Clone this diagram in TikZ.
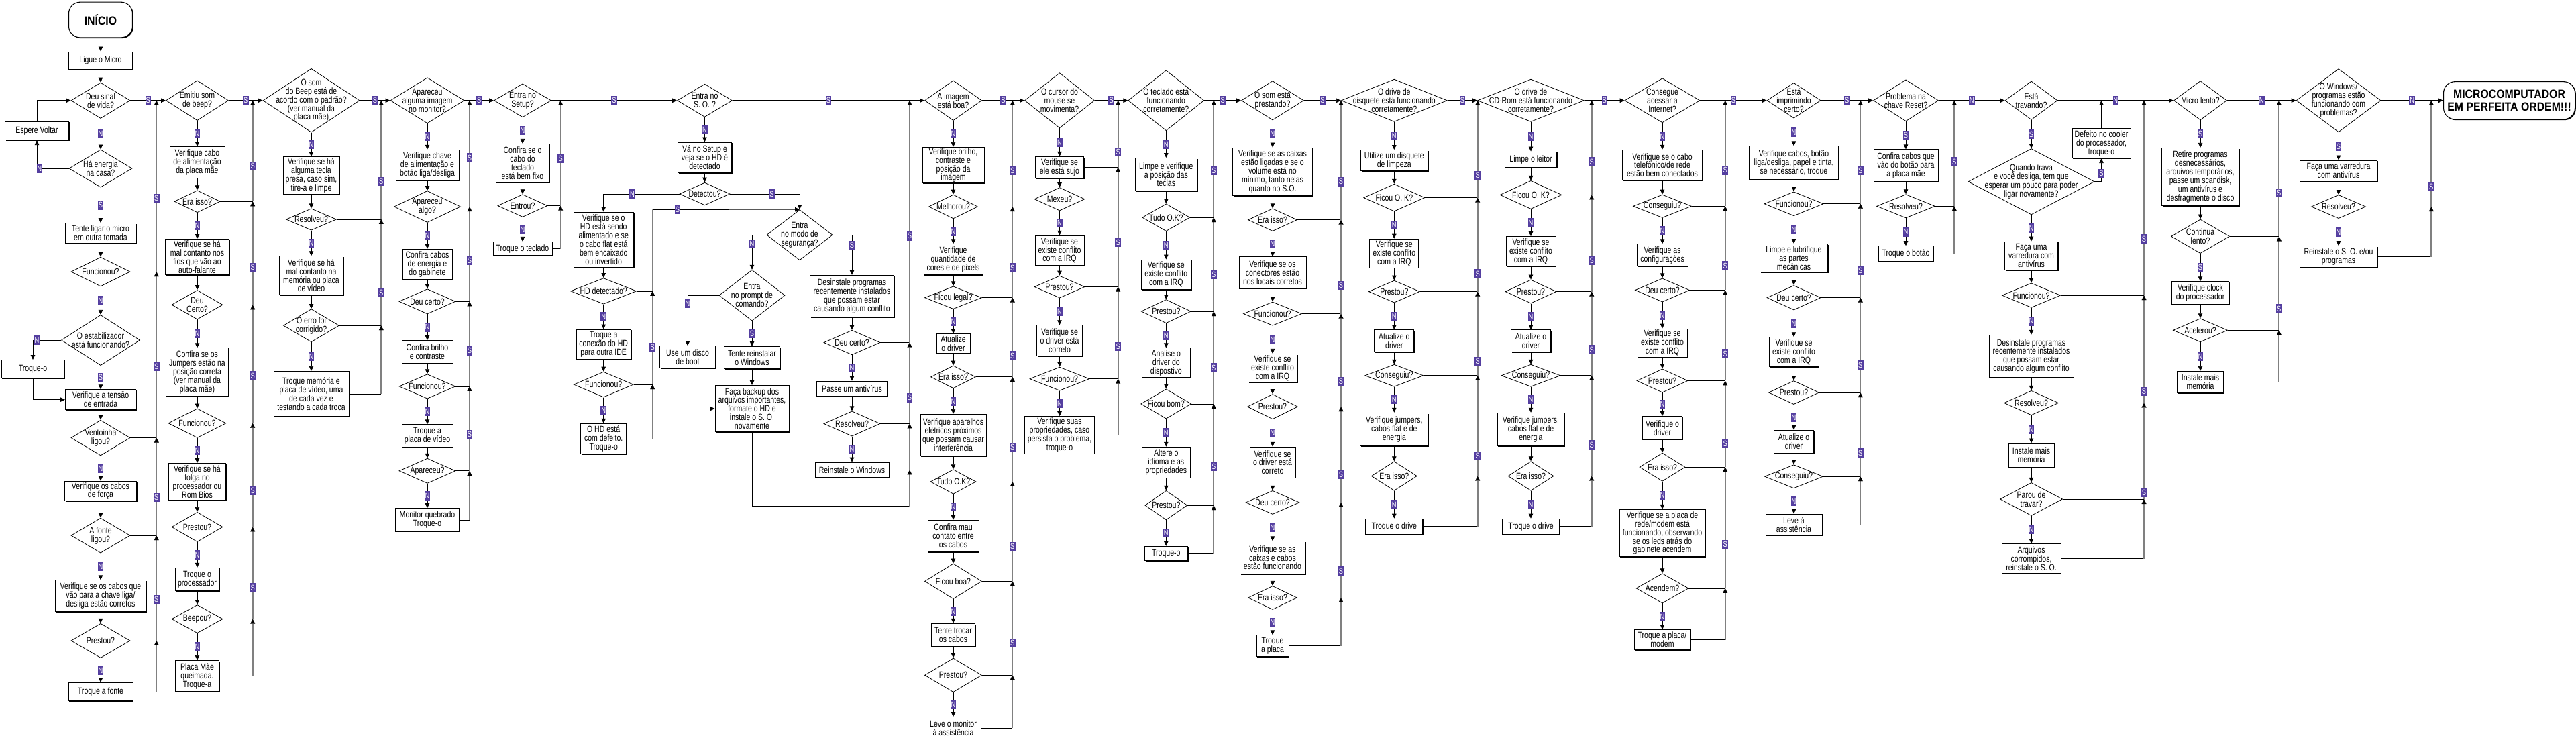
\documentclass[tikz,border=0pt]{standalone}
\usepackage{fontspec}
\setmainfont{Liberation Sans}[FakeStretch=0.78]
\newfontfamily\termfam{Liberation Sans}[FakeStretch=0.88]
\usetikzlibrary{shapes.geometric,arrows.meta,shadows}
\definecolor{tagc}{RGB}{84,62,160}
\newcommand\txtn{\fontsize{13.5}{12.9}\selectfont}
\newcommand\txtt{\termfam\bfseries\fontsize{18}{19.5}\selectfont}
\newcommand\txtg{\fontsize{12}{12}\selectfont}
\newcommand\xBX[7][]{\node[pb,#1,minimum width=#5pt,minimum height={#6*0.7032pt}] (#2) at (#3,#4) {#7};}
\newcommand\xDM[6]{\node[dm,minimum width=#4pt,minimum height={#5*0.7032pt}] (#1) at (#2,#3) {};\node[dl] (#1t) at (#1.center) {#6};}
\newcommand\xVL[2]{\draw[arr] (#1.south) -- (#1.south |- #2.north);}
\newcommand\xVT[3]{\draw[arr] (#1.south) -- (#1.south |- #2.north) node[tag,midway]{#3};}
\newcommand\xHK[2]{\draw[ln] (#1.east) -- (#1.east -| #2);}
\newcommand\xRS[4]{\draw[ret] (#1.east -| #3) -- (#2.east -| #3) node[tag,pos=#4]{S};}
\newcommand\xRN[3]{\draw[ret] (#1.east -| #3) -- (#2.east -| #3);}
\newcommand\xMR[3]{\draw[arr] (#1.east) -- (#2.west) node[tag,midway]{#3};}
\tikzset{
  pb/.style={rectangle,draw=black,line width=1pt,fill=white,align=center,font=\txtn,inner sep=1pt,
    drop shadow={shadow xshift=1.3pt,shadow yshift=-1.3pt,opacity=1,fill=black}},
  term/.style={rounded corners=17pt,font=\txtt,line width=1.1pt},
  dm/.style={diamond,draw=black,line width=0.8pt,fill=white,inner sep=0pt},
  dl/.style={align=center,font=\txtn,inner sep=0pt},
  ln/.style={draw=black,line width=0.75pt},
  arr/.style={ln,-{Triangle[length=7pt,width=6.5pt]}},
  ret/.style={draw=black!50,line width=1.8pt,-{Triangle[length=7pt,width=7pt,color=black,fill=black,line width=0.1pt]}},
  tag/.style={fill=tagc,text=white,font=\txtg,inner sep=0pt,minimum width=8.5pt,minimum height=13.5pt}
}
\begin{document}
\begin{tikzpicture}[x=1pt,y=-0.7032pt]
\useasboundingbox (0,0) rectangle (3840,1560);
% ---------------- Column A
\xBX[term]{start}{150}{42}{95}{75}{INÍCIO}
\xBX{ligue}{150}{128}{95}{37}{Ligue o Micro}
\xDM{dvida}{150}{213}{88}{76}{Deu sinal\\de vida?}
\xBX{espere}{55}{277}{95}{39}{Espere Voltar}
\xDM{denergia}{150}{357}{94}{80}{Há energia\\na casa?}
\xBX{tomada}{150}{494}{105}{42}{Tente ligar o micro\\em outra tomada}
\xDM{dfuncA}{150}{576}{88}{62}{Funcionou?}
\xDM{destab}{150}{721}{117}{107}{O estabilizador\\está funcionando?}
\xBX{troqueA}{49}{782}{94}{38}{Troque-o}
\xBX{tensao}{150}{847}{105}{42}{Verifique a tensão\\de entrada}
\xDM{dvent}{150}{928}{88}{75}{Ventoinha\\ligou?}
\xBX{cabosf}{150}{1041}{107}{42}{Verifique os cabos\\de força}
\xDM{dfonte}{150}{1135}{88}{74}{A fonte\\ligou?}
\xBX{chave}{150}{1263}{135}{66}{Verifique se os cabos que\\vão para a chave liga/\\desliga estão corretos}
\xDM{dprestA}{150}{1358}{88}{73}{Prestou?}
\xBX{tfonte}{150}{1466}{96}{38}{Troque a fonte}
\coordinate (rA) at (233.3,0);
\xVL{start}{ligue}
\xVL{ligue}{dvida}
\draw[arr] (espere.north) |- (dvida.west);
\draw[arr] (denergia.west) -| (espere.south) node[tag,pos=0.46]{N};
\xVT{dvida}{denergia}{N}
\xVT{denergia}{tomada}{S}
\xVL{tomada}{dfuncA}
\xVT{dfuncA}{destab}{N}
\draw[arr] (destab.west) -| (troqueA.north) node[tag,pos=0.43]{N};
\xVT{destab}{tensao}{S}
\draw[arr] (troqueA.south) |- (tensao.west);
\xVL{tensao}{dvent}
\xVT{dvent}{cabosf}{N}
\xVL{cabosf}{dfonte}
\xVT{dfonte}{chave}{N}
\xVL{chave}{dprestA}
\xVT{dprestA}{tfonte}{N}
\xHK{dfuncA}{rA}\xHK{dvent}{rA}\xHK{dfonte}{rA}\xHK{dprestA}{rA}\xHK{tfonte}{rA}
\xRN{tfonte}{dprestA}{rA}
\xRS{dprestA}{dfonte}{rA}{0.39}
\xRS{dfonte}{dvent}{rA}{0.39}
\xRS{dvent}{dfuncA}{rA}{0.43}
\xRS{dfuncA}{dvida}{rA}{0.43}
% ---------------- Column B
\xDM{dbeep}{294}{213}{93}{85}{Emitiu som\\de beep?}
\xBX{caboal}{294}{344}{82}{66}{Verifique cabo\\de alimentação\\da placa mãe}
\xDM{deraB}{294}{427}{68}{47}{Era isso?}
\xBX{malcont}{294}{545}{95}{76}{Verifique se há\\mal contanto nos\\fios que vão ao\\auto-falante}
\xDM{dcertoB}{294}{646}{76}{62}{Deu\\Certo?}
\xBX{jumpers}{294}{789}{93}{102}{Confira se os\\Jumpers estão na\\posição correta\\(ver manual da\\placa mãe)}
\xDM{dfuncB}{294}{897}{86}{62}{Funcionou?}
\xBX{folga}{294}{1021}{85}{78}{Verifique se há\\folga no\\processador ou\\Rom Bios}
\xDM{dprestB}{294}{1117}{76}{63}{Prestou?}
\xBX{tproc}{294}{1228}{66}{49}{Troque o\\processador}
\xDM{dbeepou}{294}{1312}{76}{60}{Beepou?}
\xBX{pqueim}{294}{1433}{65}{66}{Placa Mãe\\queimada.\\Troque-a}
\coordinate (rB) at (376.7,0);
\xVT{dbeep}{caboal}{N}\xVL{caboal}{deraB}\xVT{deraB}{malcont}{N}\xVL{malcont}{dcertoB}
\xVT{dcertoB}{jumpers}{N}\xVL{jumpers}{dfuncB}\xVT{dfuncB}{folga}{N}\xVL{folga}{dprestB}
\xVT{dprestB}{tproc}{N}\xVL{tproc}{dbeepou}\xVT{dbeepou}{pqueim}{N}
\xHK{deraB}{rB}\xHK{dcertoB}{rB}\xHK{dfuncB}{rB}\xHK{dprestB}{rB}\xHK{dbeepou}{rB}\xHK{pqueim}{rB}
\xRN{pqueim}{dbeepou}{rB}
\xRS{dbeepou}{dprestB}{rB}{0.34}
\xRS{dprestB}{dfuncB}{rB}{0.35}
\xRS{dfuncB}{dcertoB}{rB}{0.40}
\xRS{dcertoB}{deraB}{rB}{0.36}
\xRS{deraB}{dbeep}{rB}{0.35}
% ---------------- Column C
\xDM{dpadrao}{464}{213}{144}{135}{O som\\do Beep está de\\acordo com o padrão?\\(ver manual da\\placa mãe)}
\xBX{tecla}{464}{372}{84}{79}{Verifique se há\\alguma tecla\\presa, caso sim,\\tire-a e limpe}
\xDM{dresolvC}{464}{465}{75}{46}{Resolveu?}
\xBX{memvid}{464}{584}{95}{82}{Verifique se há\\mal contanto na\\memória ou placa\\de vídeo}
\xDM{derro}{464}{690}{83}{70}{O erro foi\\corrigido?}
\xBX{trmem}{464}{835}{112}{96}{Troque memória e\\placa de vídeo, uma\\de cada vez e\\testando a cada troca}
\coordinate (rC) at (568.3,0);
\xVT{dpadrao}{tecla}{N}\xVL{tecla}{dresolvC}\xVT{dresolvC}{memvid}{N}\xVL{memvid}{derro}\xVT{derro}{trmem}{N}
\xHK{dresolvC}{rC}\xHK{derro}{rC}\xHK{trmem}{rC}
\xRN{trmem}{derro}{rC}
\xRS{derro}{dresolvC}{rC}{0.31}
\xRS{dresolvC}{dpadrao}{rC}{0.32}
% ---------------- Column D
\xDM{dmonitor}{637}{213}{110}{97}{Apareceu\\alguma imagem\\no monitor?}
\xBX{chave2}{637}{350}{94}{65}{Verifique chave\\de alimentação e\\botão liga/desliga}
\xDM{dalgo}{637}{438}{99}{67}{Apareceu\\algo?}
\xBX{gab}{637}{560}{74}{64}{Confira cabos\\de energia e\\do gabinete}
\xDM{dcertoD}{637}{639}{84}{53}{Deu certo?}
\xBX{brilho}{637}{746}{76}{48}{Confira brilho\\e contraste}
\xDM{dfuncD}{637}{819}{84}{52}{Funcionou?}
\xBX{placavid}{637}{924}{76}{48}{Troque a\\placa de vídeo}
\xDM{dapar}{637}{998}{84}{53}{Apareceu?}
\xBX{monq}{637}{1102}{95}{49}{Monitor quebrado\\Troque-o}
\coordinate (rD) at (700,0);
\xVT{dmonitor}{chave2}{N}\xVL{chave2}{dalgo}\xVT{dalgo}{gab}{N}\xVL{gab}{dcertoD}\xVT{dcertoD}{brilho}{N}
\xVL{brilho}{dfuncD}\xVT{dfuncD}{placavid}{N}\xVL{placavid}{dapar}\xVT{dapar}{monq}{N}
\xHK{dalgo}{rD}\xHK{dcertoD}{rD}\xHK{dfuncD}{rD}\xHK{dapar}{rD}\xHK{monq}{rD}
\xRN{monq}{dapar}{rD}
\xRS{dapar}{dfuncD}{rD}{0.43}
\xRS{dfuncD}{dcertoD}{rD}{0.42}
\xRS{dcertoD}{dalgo}{rD}{0.43}
\xRS{dalgo}{dmonitor}{rD}{0.46}
% ---------------- Column E
\xDM{dsetup}{779}{213}{85}{71}{Entra no\\Setup?}
\xBX{teclado}{779}{346}{80}{82}{Confira se o\\cabo do\\teclado\\está bem fixo}
\xDM{dentrou}{779}{436}{74}{48}{Entrou?}
\xBX{trtecl}{779}{527}{88}{29}{Troque o teclado}
\coordinate (rE) at (835.7,0);
\xVT{dsetup}{teclado}{N}\xVL{teclado}{dentrou}\xVT{dentrou}{trtecl}{N}
\xHK{dentrou}{rE}\xHK{trtecl}{rE}
\xRN{trtecl}{dentrou}{rE}
\xRS{dentrou}{dsetup}{rE}{0.45}
% ---------------- Column F / G
\xDM{dso}{1050.5}{213}{82}{70}{Entra no\\S. O. ?}
\xBX{setuphd}{1050.5}{334}{80}{65}{Vá no Setup e\\veja se o HD é\\detectado}
\xDM{ddetect}{1050.5}{411}{75}{48}{Detectou?}
\xBX{hdalim}{899.7}{508}{89}{117}{Verifique se o\\HD está sendo\\alimentado e se\\o cabo flat está\\bem encaixado\\ou invertido}
\xDM{dhddet}{899.7}{617}{98}{55}{HD detectado?}
\xBX{ide}{899.7}{730}{81}{63}{Troque a\\conexão do HD\\para outra IDE}
\xDM{dfuncF}{899.7}{815}{89}{54}{Funcionou?}
\xBX{hddef}{899.7}{930}{68}{64}{O HD está\\com defeito.\\Troque-o}
\xDM{dseg}{1192}{498}{98}{107}{Entra\\no modo de\\segurança?}
\xDM{dprompt}{1121}{626}{98}{108}{Entra\\no prompt de\\comando?}
\xBX{boot}{1025}{757}{83}{47}{Use um disco\\de boot}
\xBX{reinst}{1121}{758}{83}{47}{Tente reinstalar\\o Windows}
\xBX{backup}{1121}{866}{110}{98}{Faça backup dos\\arquivos importantes,\\formate o HD e\\instale o S. O.\\novamente}
\xBX{desinstA}{1270}{628}{125}{89}{Desinstale programas\\recentemente instalados\\que possam estar\\causando algum conflito}
\xDM{dcertoG}{1270}{726}{84}{52}{Deu certo?}
\xBX{antivA}{1270}{824}{105}{32}{Passe um antivírus}
\xDM{dresolvG}{1270}{898}{84}{53}{Resolveu?}
\xBX{reinstw}{1270}{996}{110}{32}{Reinstale o Windows}
\coordinate (rF) at (972.7,0);
\coordinate (fjoin) at (972.7,444.5);
\coordinate (rG) at (1356,0);
\coordinate (gbot) at (1356,1073);
\xVT{dso}{setuphd}{N}\xVL{setuphd}{ddetect}
\draw[arr] (ddetect.west) -| (hdalim.north) node[tag,pos=0.31]{N};
\draw[arr] (ddetect.east) -| (dseg.north) node[tag,pos=0.30]{S};
\xVL{hdalim}{dhddet}\xVT{dhddet}{ide}{N}\xVL{ide}{dfuncF}\xVT{dfuncF}{hddef}{N}
\xHK{dhddet}{rF}\xHK{dfuncF}{rF}\xHK{hddef}{rF}
\xRN{hddef}{dfuncF}{rF}
\xRS{dfuncF}{dhddet}{rF}{0.40}
\draw[ret,-] (dhddet.east -| rF) -- (fjoin);
\draw[arr] (fjoin) -- (dseg.north) node[tag,pos=0.17]{S};
\draw[arr] (dseg.west) -| (dprompt.north) node[tag,pos=0.63]{N};
\draw[arr] (dseg.east) -| (desinstA.north) node[tag,pos=0.63]{S};
\draw[arr] (dprompt.west) -| (boot.north) node[tag,pos=0.58]{N};
\xVT{dprompt}{reinst}{S}
\draw[arr] (boot.south) |- (backup.west);
\xVL{reinst}{backup}
\draw[ln] (backup.south) |- (gbot);
\xVL{desinstA}{dcertoG}\xVT{dcertoG}{antivA}{N}\xVL{antivA}{dresolvG}\xVT{dresolvG}{reinstw}{N}
\xHK{dcertoG}{rG}\xHK{dresolvG}{rG}\xHK{reinstw}{rG}
\draw[ret] (gbot) -- (reinstw.east -| rG);
\xRN{reinstw}{dresolvG}{rG}
\xRS{dresolvG}{dcertoG}{rG}{0.32}
\xRS{dcertoG}{dso}{rG}{0.44}
% ---------------- Column H
\xDM{dimg}{1421}{213}{85}{85}{A imagem\\está boa?}
\xBX{brilho2}{1421}{350}{92}{75}{Verifique brilho,\\contraste e\\posição da\\imagem}
\xDM{dmelh}{1421}{438}{73}{51}{Melhorou?}
\xBX{cores}{1421}{550}{88}{65}{Verifique\\quantidade de\\cores e de pixels}
\xDM{dlegal}{1421}{631}{85}{48}{Ficou legal?}
\xBX{atdrvH}{1421}{728}{50}{40}{Atualize\\o driver}
\xDM{deraH}{1421}{799}{67}{48}{Era isso?}
\xBX{apar}{1421}{922}{98}{88}{Verifique aparelhos\\elétricos próximos\\que possam causar\\interferência}
\xDM{dokH}{1421}{1021}{68}{52}{Tudo O.K?}
\xBX{mau}{1421}{1136}{76}{67}{Confira mau\\contato entre\\os cabos}
\xDM{dboa}{1421}{1232}{85}{75}{Ficou boa?}
\xBX{trcabos}{1421}{1346}{65}{49}{Tente trocar\\os cabos}
\xDM{dprestH}{1421}{1431}{85}{72}{Prestou?}
\xBX{leve}{1421}{1543}{82}{47}{Leve o monitor\\à assistência}
\coordinate (rH) at (1509.3,0);
\xVT{dimg}{brilho2}{N}\xVL{brilho2}{dmelh}\xVT{dmelh}{cores}{N}\xVL{cores}{dlegal}\xVT{dlegal}{atdrvH}{N}
\xVL{atdrvH}{deraH}\xVT{deraH}{apar}{N}\xVL{apar}{dokH}\xVT{dokH}{mau}{N}\xVL{mau}{dboa}
\xVT{dboa}{trcabos}{N}\xVL{trcabos}{dprestH}\xVT{dprestH}{leve}{N}
\xHK{dmelh}{rH}\xHK{dlegal}{rH}\xHK{deraH}{rH}\xHK{dokH}{rH}\xHK{dboa}{rH}\xHK{dprestH}{rH}\xHK{leve}{rH}
\xRN{leve}{dprestH}{rH}
\xRS{dprestH}{dboa}{rH}{0.34}
\xRS{dboa}{dokH}{rH}{0.35}
\xRS{dokH}{deraH}{rH}{0.33}
\xRS{deraH}{dlegal}{rH}{0.27}
\xRS{dlegal}{dmelh}{rH}{0.33}
\xRS{dmelh}{dimg}{rH}{0.34}
% ---------------- Column I
\xDM{dmouse}{1579.5}{213}{104}{117}{O cursor do\\mouse se\\movimenta?}
\xBX{sujo}{1579.5}{355}{72}{46}{Verifique se\\ele está sujo}
\xDM{dmexeu}{1579.5}{422}{75}{49}{Mexeu?}
\xBX{irqI}{1579.5}{531}{73}{63}{Verifique se\\existe conflito\\com a IRQ}
\xDM{dprestI}{1579.5}{608}{75}{47}{Prestou?}
\xBX{drvcor}{1579.5}{722}{68}{65}{Verifique se\\o driver está\\correto}
\xDM{dfuncI}{1579.5}{803}{89}{50}{Funcionou?}
\xBX{props}{1579.5}{922}{104}{79}{Verifique suas\\propriedades, caso\\persista o problema,\\troque-o}
\coordinate (rI) at (1666.7,0);
\xVT{dmouse}{sujo}{N}\xVL{sujo}{dmexeu}\xVT{dmexeu}{irqI}{N}\xVL{irqI}{dprestI}\xVT{dprestI}{drvcor}{N}
\xVL{drvcor}{dfuncI}\xVT{dfuncI}{props}{N}
\xHK{sujo}{rI}\xHK{dprestI}{rI}\xHK{dfuncI}{rI}\xHK{props}{rI}
\xRN{props}{dfuncI}{rI}
\xRS{dfuncI}{dprestI}{rI}{0.35}
\xRS{dprestI}{sujo}{rI}{0.37}
\xRS{sujo}{dmouse}{rI}{0.23}
% ---------------- Column J
\xDM{dtecl}{1738.3}{213}{113}{128}{O teclado está\\funcionando\\corretamente?}
\xBX{limpe}{1738.3}{370}{92}{70}{Limpe e verifique\\a posição das\\teclas}
\xDM{dokJ}{1738.3}{461}{71}{58}{Tudo O.K?}
\xBX{irqJ}{1738.3}{582}{74}{63}{Verifique se\\existe conflito\\com a IRQ}
\xDM{dprestJ}{1738.3}{660}{74}{50}{Prestou?}
\xBX{analise}{1738.3}{769}{72}{62}{Analise o\\driver do\\dispostivo}
\xDM{dbom}{1738.3}{856}{75}{63}{Ficou bom?}
\xBX{idioma}{1738.3}{980}{72}{65}{Altere o\\idioma e as\\propriedades}
\xDM{dprestJb}{1738.3}{1071}{63}{62}{Prestou?}
\xBX{trocao}{1738.3}{1173}{64}{30}{Troque-o}
\coordinate (rJ) at (1809.3,0);
\xVT{dtecl}{limpe}{N}\xVL{limpe}{dokJ}\xVT{dokJ}{irqJ}{N}\xVL{irqJ}{dprestJ}\xVT{dprestJ}{analise}{N}
\xVL{analise}{dbom}\xVT{dbom}{idioma}{N}\xVL{idioma}{dprestJb}\xVT{dprestJb}{trocao}{N}
\xHK{dokJ}{rJ}\xHK{dprestJ}{rJ}\xHK{dbom}{rJ}\xHK{dprestJb}{rJ}\xHK{trocao}{rJ}
\xRN{trocao}{dprestJb}{rJ}
\xRS{dprestJb}{dbom}{rJ}{0.38}
\xRS{dbom}{dprestJ}{rJ}{0.39}
\xRS{dprestJ}{dokJ}{rJ}{0.39}
\xRS{dokJ}{dtecl}{rJ}{0.40}
% ---------------- Column K
\xDM{dsom}{1897}{213}{93}{83}{O som está\\prestando?}
\xBX{caixas}{1897}{364}{119}{102}{Verifique se as caixas\\estão ligadas e se o\\volume está no\\mínimo, tanto nelas\\quanto no S.O.}
\xDM{deraK}{1897}{466}{73}{48}{Era isso?}
\xBX{conect}{1897}{578}{100}{67}{Verifique se os\\conectores estão\\nos locais corretos}
\xDM{dfuncK}{1897}{665}{87}{50}{Funcionou?}
\xBX{irqK}{1897}{780}{73}{60}{Verifique se\\existe conflito\\com a IRQ}
\xDM{dprestK}{1897}{862}{75}{53}{Prestou?}
\xBX{drvcorK}{1897}{980}{68}{65}{Verifique se\\o driver está\\correto}
\xDM{dcertoK}{1897}{1065}{80}{50}{Deu certo?}
\xBX{caixcab}{1897}{1182}{97}{69}{Verifique se as\\caixas e cabos\\estão funcionando}
\xDM{deraK2}{1897}{1267}{73}{50}{Era isso?}
\xBX{trplaca}{1897}{1369}{48}{45}{Troque\\a placa}
\coordinate (rK) at (1999,0);
\xVT{dsom}{caixas}{N}\xVL{caixas}{deraK}\xVT{deraK}{conect}{N}\xVL{conect}{dfuncK}\xVT{dfuncK}{irqK}{N}
\xVL{irqK}{dprestK}\xVT{dprestK}{drvcorK}{N}\xVL{drvcorK}{dcertoK}\xVT{dcertoK}{caixcab}{N}
\xVL{caixcab}{deraK2}\xVT{deraK2}{trplaca}{N}
\xHK{deraK}{rK}\xHK{dfuncK}{rK}\xHK{dprestK}{rK}\xHK{dcertoK}{rK}\xHK{deraK2}{rK}\xHK{trplaca}{rK}
\xRN{trplaca}{deraK2}{rK}
\xRS{deraK2}{dcertoK}{rK}{0.28}
\xRS{dcertoK}{dprestK}{rK}{0.29}
\xRS{dprestK}{dfuncK}{rK}{0.27}
\xRS{dfuncK}{deraK}{rK}{0.30}
\xRS{deraK}{dsom}{rK}{0.32}
% ---------------- Column L
\xDM{ddisq}{2078.3}{213}{158}{90}{O drive de\\disquete está funcionando\\corretamente?}
\xBX{limpeza}{2078.3}{340}{100}{44}{Utilize um disquete\\de limpeza}
\xDM{dokL}{2078.3}{419}{91}{58}{Ficou O. K?}
\xBX{irqL}{2078.3}{537}{73}{61}{Verifique se\\existe conflito\\com a IRQ}
\xDM{dprestL}{2078.3}{618}{76}{47}{Prestou?}
\xBX{atdrvL}{2078.3}{723}{59}{47}{Atualize o\\driver}
\xDM{dconsL}{2078.3}{796}{87}{47}{Conseguiu?}
\xBX{jumpL}{2078.3}{910}{101}{70}{Verifique jumpers,\\cabos flat e de\\energia}
\xDM{deraL}{2078.3}{1009}{68}{62}{Era isso?}
\xBX{trdrL}{2078.3}{1116}{85}{33}{Troque o drive}
\coordinate (rL) at (2202.7,0);
\xVT{ddisq}{limpeza}{N}\xVL{limpeza}{dokL}\xVT{dokL}{irqL}{N}\xVL{irqL}{dprestL}\xVT{dprestL}{atdrvL}{N}
\xVL{atdrvL}{dconsL}\xVT{dconsL}{jumpL}{N}\xVL{jumpL}{deraL}\xVT{deraL}{trdrL}{N}
\xHK{dokL}{rL}\xHK{dprestL}{rL}\xHK{dconsL}{rL}\xHK{deraL}{rL}\xHK{trdrL}{rL}
\xRN{trdrL}{deraL}{rL}
\xRS{deraL}{dconsL}{rL}{0.20}
\xRS{dconsL}{dprestL}{rL}{0.17}
\xRS{dprestL}{dokL}{rL}{0.19}
\xRS{dokL}{ddisq}{rL}{0.23}
% ---------------- Column M
\xDM{dcd}{2282}{213}{159}{90}{O drive de\\CD-Rom está funcionando\\corretamente?}
\xBX{leitor}{2282}{338}{77}{33}{Limpe o leitor}
\xDM{dokM}{2282}{413}{92}{60}{Ficou O. K?}
\xBX{irqM}{2282}{533}{74}{63}{Verifique se\\existe conflito\\com a IRQ}
\xDM{dprestM}{2282}{618}{76}{50}{Prestou?}
\xBX{atdrvM}{2282}{723}{59}{47}{Atualize o\\driver}
\xDM{dconsM}{2282}{796}{88}{47}{Conseguiu?}
\xBX{jumpM}{2282}{910}{100}{70}{Verifique jumpers,\\cabos flat e de\\energia}
\xDM{deraM}{2282}{1009}{68}{62}{Era isso?}
\xBX{trdrM}{2282}{1116}{85}{33}{Troque o drive}
\coordinate (rM) at (2372.7,0);
\xVT{dcd}{leitor}{N}\xVL{leitor}{dokM}\xVT{dokM}{irqM}{N}\xVL{irqM}{dprestM}\xVT{dprestM}{atdrvM}{N}
\xVL{atdrvM}{dconsM}\xVT{dconsM}{jumpM}{N}\xVL{jumpM}{deraM}\xVT{deraM}{trdrM}{N}
\xHK{dokM}{rM}\xHK{dprestM}{rM}\xHK{dconsM}{rM}\xHK{deraM}{rM}\xHK{trdrM}{rM}
\xRN{trdrM}{deraM}{rM}
\xRS{deraM}{dconsM}{rM}{0.31}
\xRS{dconsM}{dprestM}{rM}{0.31}
\xRS{dprestM}{dokM}{rM}{0.32}
\xRS{dokM}{dcd}{rM}{0.35}
% ---------------- Column N
\xDM{dnet}{2478}{213}{112}{94}{Consegue\\acessar a\\Internet?}
\xBX{cabotel}{2478}{350}{119}{65}{Verifique se o cabo\\telefônico/de rede\\estão bem conectados}
\xDM{dconsN}{2478}{437}{87}{49}{Conseguiu?}
\xBX{config}{2478}{541}{76}{47}{Verifique as\\configurações}
\xDM{dcertoN}{2478}{615}{81}{50}{Deu certo?}
\xBX{irqN}{2478}{727}{74}{60}{Verifique se\\existe conflito\\com a IRQ}
\xDM{dprestN}{2478}{807}{76}{50}{Prestou?}
\xBX{verdrv}{2478}{907}{59}{49}{Verifique o\\driver}
\xDM{deraN}{2478}{990}{68}{60}{Era isso?}
\xBX{leds}{2478}{1130}{128}{100}{Verifique se a placa de\\rede/modem está\\funcionando, observando\\se os leds atrás do\\gabinete acendem}
\xDM{dacend}{2478}{1247}{78}{63}{Acendem?}
\xBX{trmodem}{2478}{1356}{84}{42}{Troque a placa/\\modem}
\coordinate (rN) at (2571.7,0);
\xVT{dnet}{cabotel}{N}\xVL{cabotel}{dconsN}\xVT{dconsN}{config}{N}\xVL{config}{dcertoN}\xVT{dcertoN}{irqN}{N}
\xVL{irqN}{dprestN}\xVT{dprestN}{verdrv}{N}\xVL{verdrv}{deraN}\xVT{deraN}{leds}{N}
\xVL{leds}{dacend}\xVT{dacend}{trmodem}{N}
\xHK{dconsN}{rN}\xHK{dcertoN}{rN}\xHK{dprestN}{rN}\xHK{deraN}{rN}\xHK{dacend}{rN}\xHK{trmodem}{rN}
\xRN{trmodem}{dacend}{rN}
\xRS{dacend}{deraN}{rN}{0.36}
\xRS{deraN}{dprestN}{rN}{0.27}
\xRS{dprestN}{dcertoN}{rN}{0.30}
\xRS{dcertoN}{dconsN}{rN}{0.29}
\xRS{dconsN}{dnet}{rN}{0.34}
% ---------------- Column O
\xDM{dimpr}{2674}{213}{80}{75}{Está\\imprimindo\\certo?}
\xBX{impcab}{2674}{345}{133}{70}{Verifique cabos, botão\\liga/desliga, papel e tinta,\\se necessário, troque}
\xDM{dfuncO}{2674}{432}{88}{51}{Funcionou?}
\xBX{lubr}{2674}{547}{101}{60}{Limpe e lubrifique\\as partes\\mecânicas}
\xDM{dcertoO}{2674}{631}{80}{52}{Deu certo?}
\xBX{irqO}{2674}{746}{74}{62}{Verifique se\\existe conflito\\com a IRQ}
\xDM{dprestO}{2674}{832}{75}{50}{Prestou?}
\xBX{atdrvO}{2674}{936}{59}{48}{Atualize o\\driver}
\xDM{dconsO}{2674}{1010}{87}{50}{Conseguiu?}
\xBX{assist}{2674}{1112}{84}{45}{Leve à\\assistência}
\coordinate (rO) at (2773.3,0);
\xVT{dimpr}{impcab}{N}\xVL{impcab}{dfuncO}\xVT{dfuncO}{lubr}{N}\xVL{lubr}{dcertoO}\xVT{dcertoO}{irqO}{N}
\xVL{irqO}{dprestO}\xVT{dprestO}{atdrvO}{N}\xVL{atdrvO}{dconsO}\xVT{dconsO}{assist}{N}
\xHK{dfuncO}{rO}\xHK{dcertoO}{rO}\xHK{dprestO}{rO}\xHK{dconsO}{rO}\xHK{assist}{rO}
\xRN{assist}{dconsO}{rO}
\xRS{dconsO}{dprestO}{rO}{0.28}
\xRS{dprestO}{dcertoO}{rO}{0.29}
\xRS{dcertoO}{dfuncO}{rO}{0.29}
\xRS{dfuncO}{dimpr}{rO}{0.32}
% ---------------- Column P
\xDM{dreset}{2841}{213}{97}{88}{Problema na\\chave Reset?}
\xBX{cabreset}{2841}{351}{96}{68}{Confira cabos que\\vão do botão para\\a placa mãe}
\xDM{dresolvP}{2841}{437}{87}{50}{Resolveu?}
\xBX{trbotao}{2841}{538}{82}{33}{Troque o botão}
\coordinate (rP) at (2913.3,0);
\xVT{dreset}{cabreset}{S}\xVL{cabreset}{dresolvP}\xVT{dresolvP}{trbotao}{N}
\xHK{dresolvP}{rP}\xHK{trbotao}{rP}
\xRN{trbotao}{dresolvP}{rP}
\xRS{dresolvP}{dreset}{rP}{0.42}
% ---------------- Column Q
\xDM{dtrav}{3028}{213}{78}{82}{Está\\travando?}
\xDM{dquando}{3028}{385}{188}{140}{Quando trava\\e você desliga, tem que\\esperar um pouco para poder\\ligar novamente?}
\xBX{cooler}{3132.5}{304}{87}{62}{Defeito no cooler\\do processador,\\troque-o}
\xBX{varrQ}{3028}{542}{79}{60}{Faça uma\\varredura com\\antivírus}
\xDM{dfuncQ}{3028}{626}{87}{52}{Funcionou?}
\xBX{desinstQ}{3028}{755}{126}{90}{Desinstale programas\\recentemente instalados\\que possam estar\\causando algum conflito}
\xDM{dresolvQ}{3028}{854}{81}{52}{Resolveu?}
\xBX{memQ}{3028}{965}{68}{50}{Instale mais\\memória}
\xDM{dparou}{3028}{1058}{93}{70}{Parou de\\travar?}
\xBX{corromp}{3028}{1184}{88}{62}{Arquivos\\corrompidos,\\reinstale o S. O.}
\coordinate (rQ) at (3196,0);
\xVT{dtrav}{dquando}{S}
\draw[arr] (dquando.east) -| (cooler.south) node[tag,pos=0.68]{S};
\draw[arr] (cooler.north) -- (cooler.north |- dtrav.east);
\xVT{dquando}{varrQ}{N}\xVL{varrQ}{dfuncQ}\xVT{dfuncQ}{desinstQ}{N}\xVL{desinstQ}{dresolvQ}
\xVT{dresolvQ}{memQ}{N}\xVL{memQ}{dparou}\xVT{dparou}{corromp}{N}
\xHK{dfuncQ}{rQ}\xHK{dresolvQ}{rQ}\xHK{dparou}{rQ}\xHK{corromp}{rQ}
\xRN{corromp}{dparou}{rQ}
\xRS{dparou}{dresolvQ}{rQ}{0.07}
\xRS{dresolvQ}{dfuncQ}{rQ}{0.105}
\xRS{dfuncQ}{dtrav}{rQ}{0.29}
% ---------------- Column R
\xDM{dlento}{3280}{213}{79}{83}{Micro lento?}
\xBX{retire}{3280}{375}{115}{123}{Retire programas\\desnecessários,\\arquivos temporários,\\passe um scandisk,\\um antivírus e\\desfragmente o disco}
\xDM{dcont}{3280}{501}{87}{72}{Continua\\lento?}
\xBX{clock}{3280}{621}{85}{48}{Verifique clock\\do processador}
\xDM{dacel}{3280}{700}{81}{50}{Acelerou?}
\xBX{memR}{3280}{810}{69}{46}{Instale mais\\memória}
\coordinate (rR) at (3397.3,0);
\xVT{dlento}{retire}{S}\xVL{retire}{dcont}\xVT{dcont}{clock}{S}\xVL{clock}{dacel}\xVT{dacel}{memR}{N}
\xHK{dcont}{rR}\xHK{dacel}{rR}\xHK{memR}{rR}
\xRN{memR}{dacel}{rR}
\xRS{dacel}{dcont}{rR}{0.23}
\xRS{dcont}{dlento}{rR}{0.32}
% ---------------- Column S
\xDM{dwin}{3486}{213}{126}{134}{O Windows/\\programas estão\\funcionando com\\problemas?}
\xBX{varrS}{3486}{362}{115}{44}{Faça uma varredura\\com antivírus}
\xDM{dresolvS}{3486}{438}{81}{50}{Resolveu?}
\xBX{reinstso}{3486}{544}{115}{45}{Reinstale o S. O. e/ou\\programas}
\coordinate (rS) at (3624.3,0);
\xVT{dwin}{varrS}{S}\xVL{varrS}{dresolvS}\xVT{dresolvS}{reinstso}{N}
\xHK{dresolvS}{rS}\xHK{reinstso}{rS}
\xRN{reinstso}{dresolvS}{rS}
\xRS{dresolvS}{dwin}{rS}{0.19}
% ---------------- End
\xBX[term]{fim}{3740.5}{213}{196}{80}{MICROCOMPUTADOR\\EM PERFEITA ORDEM!!!}
% ---------------- Main row
\xMR{dvida}{dbeep}{S}\xMR{dbeep}{dpadrao}{S}\xMR{dpadrao}{dmonitor}{S}\xMR{dmonitor}{dsetup}{S}
\xMR{dsetup}{dso}{S}\xMR{dso}{dimg}{S}\xMR{dimg}{dmouse}{S}\xMR{dmouse}{dtecl}{S}
\xMR{dtecl}{dsom}{S}\xMR{dsom}{ddisq}{S}\xMR{ddisq}{dcd}{S}\xMR{dcd}{dnet}{S}
\xMR{dnet}{dimpr}{S}\xMR{dimpr}{dreset}{S}\xMR{dreset}{dtrav}{N}\xMR{dtrav}{dlento}{N}
\xMR{dlento}{dwin}{N}\xMR{dwin}{fim}{N}
\end{tikzpicture}
\end{document}
